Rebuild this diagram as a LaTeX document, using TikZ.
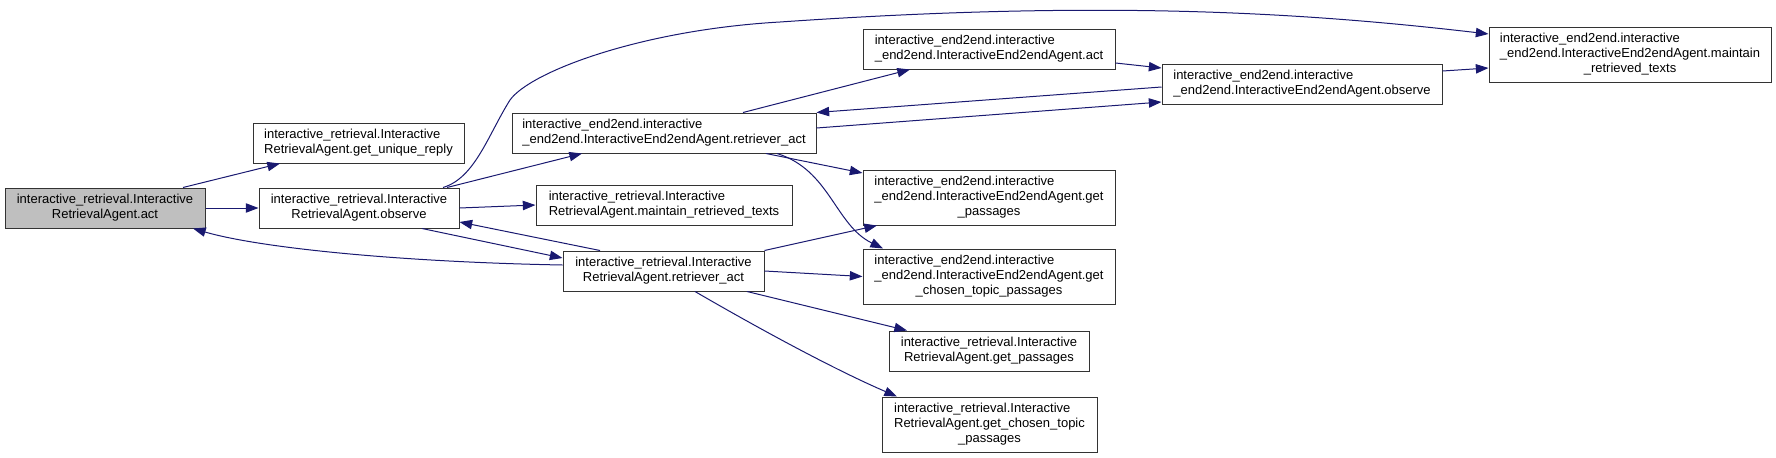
\documentclass[tikz,border=0pt]{standalone}
\usepackage{fontspec}
\setmainfont{Liberation Sans}
\usetikzlibrary{arrows.meta,calc}
\definecolor{edgeblue}{RGB}{25,25,112}
\newcommand{\twolines}[2]{\begin{tabular}{@{}l@{}}#1\\\multicolumn{1}{@{}c@{}}{#2}\end{tabular}}
\newcommand{\threelines}[3]{\begin{tabular}{@{}l@{}}#1\\#2\\\multicolumn{1}{@{}c@{}}{#3}\end{tabular}}

\begin{document}
\begin{tikzpicture}[
  x=0.75pt,y=-0.75pt,
  fn/.style={draw=black!80,fill=white,line width=0.75pt,
             inner xsep=7.5pt,inner ysep=3.75pt,
             font=\fontsize{9.75pt}{11.25pt}\selectfont},
  root/.style={fn,fill=black!25},
  call/.style={draw=edgeblue,line width=0.75pt,
               -{Triangle[length=9.5pt,width=7pt]}}
]
\useasboundingbox (0,0) rectangle (1776,457);

% left part: retrieval agent
\node[root,minimum width=150pt] (act) at (105,208)
      {\twolines{interactive\_retrieval.Interactive}{RetrievalAgent.act}};
\node[fn,minimum width=158.25pt] (unique) at (358.5,143)
      {\twolines{interactive\_retrieval.Interactive}{RetrievalAgent.get\_unique\_reply}};
\node[fn,minimum width=150pt] (observe) at (359,208)
      {\twolines{interactive\_retrieval.Interactive}{RetrievalAgent.observe}};
\node[fn,minimum width=228pt] (e2eret) at (664,133)
      {\twolines{interactive\_end2end.interactive}{\_end2end.InteractiveEnd2endAgent.retriever\_act}};
\node[fn,minimum width=192pt] (maintain) at (664,205)
      {\twolines{interactive\_retrieval.Interactive}{RetrievalAgent.maintain\_retrieved\_texts}};
\node[fn,minimum width=150.75pt] (ret) at (663.5,271)
      {\twolines{interactive\_retrieval.Interactive}{RetrievalAgent.retriever\_act}};

% right part
\node[fn,minimum width=189pt] (e2eact) at (989,49)
      {\twolines{interactive\_end2end.interactive}{\_end2end.InteractiveEnd2endAgent.act}};
\node[fn,minimum width=189pt] (e2epass) at (989,197.5)
      {\threelines{interactive\_end2end.interactive}{\_end2end.InteractiveEnd2endAgent.get}{\_passages}};
\node[fn,minimum width=189pt] (e2echosen) at (989,276.5)
      {\threelines{interactive\_end2end.interactive}{\_end2end.InteractiveEnd2endAgent.get}{\_chosen\_topic\_passages}};
\node[fn,minimum width=150pt] (retpass) at (989,351)
      {\twolines{interactive\_retrieval.Interactive}{RetrievalAgent.get\_passages}};
\node[fn,minimum width=161.25pt] (retchosen) at (989.5,424.5)
      {\threelines{interactive\_retrieval.Interactive}{RetrievalAgent.get\_chosen\_topic}{\_passages}};
\node[fn,minimum width=210pt] (e2eobs) at (1302,84)
      {\twolines{interactive\_end2end.interactive}{\_end2end.InteractiveEnd2endAgent.observe}};
\node[fn,minimum width=211.5pt] (e2emaint) at (1630,54.5)
      {\threelines{interactive\_end2end.interactive}{\_end2end.InteractiveEnd2endAgent.maintain}{\_retrieved\_texts}};

% calls
\draw[call] ($(act.north)+(78,0)$) -- ($(unique.south)+(-78.5,0)$);
\draw[call] (act) -- (observe);
\draw[call] ($(observe.north)+(88,0)$) -- ($(e2eret.south)+(-82,0)$);
\draw[call] ($(observe.north)+(84,0)$) .. controls (475,178) and (488,135) .. (510,100)
      .. controls (530,72) and (640,30) .. (780,22)
      .. controls (1100,0) and (1300,12) .. ($(e2emaint.west)+(0,-20.5)$);
\draw[call] (observe.east) -- (maintain.west);
\draw[call] ($(observe.south)+(63,0)$) -- ($(ret.west)+(0,-13)$);
\draw[call] ($(ret.north)+(-63.5,0)$) -- ($(observe.east)+(0,14)$);
\draw[call] ($(ret.west)+(0,-6)$) .. controls (400,262) and (260,248) .. ($(act.south)+(88,0)$);
\draw[call] ($(e2eret.north)+(79,0)$) -- ($(e2eact.south)+(-79,0)$);
\draw[call] ($(e2eret.east)+(0,-5)$) -- ($(e2eobs.west)+(0,18)$);
\draw[call] ($(e2eobs.west)+(0,3)$) -- (e2eret.north east);
\draw[call] ($(e2eact.east)+(0,14)$) -- ($(e2eobs.west)+(0,-16)$);
\draw[call] ($(e2eobs.east)+(0,-13)$) -- ($(e2emaint.west)+(0,13.5)$);
\draw[call] ($(e2eret.south)+(102,0)$) -- ($(e2epass.west)+(0,-24.5)$);
\draw[call] ($(e2eret.south)+(113,0)$) .. controls (830,170) and (835,225) .. ($(e2echosen.north)+(-106,0)$);
\draw[call] (ret.north east) -- ($(e2epass.south)+(-112,0)$);
\draw[call] (ret.east) -- (e2echosen.west);
\draw[call] ($(ret.south)+(83.5,0)$) -- ($(retpass.north)+(-82,0)$);
\draw[call] ($(ret.south)+(31.5,0)$) .. controls (770,335) and (840,372) .. ($(retchosen.north)+(-92.5,0)$);
\end{tikzpicture}
\end{document}
